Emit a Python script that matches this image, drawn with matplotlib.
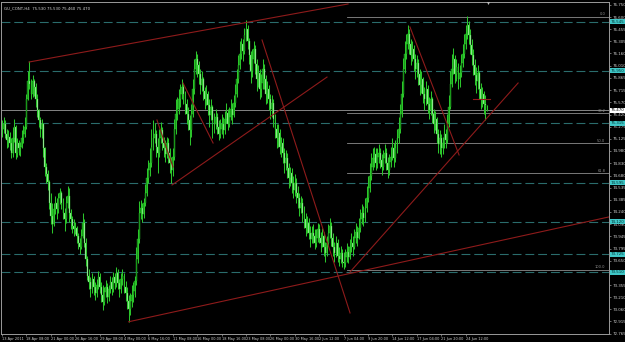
import matplotlib
matplotlib.use("Agg")
import matplotlib.pyplot as plt
import numpy as np

# ---------------- data (H4 bars, price) ----------------
first_open = 75.20
closes = [
    75.25, 75.31, 75.19, 75.11, 75.15, 75.07, 74.95, 75.13, 75.27, 74.95, 75.07, 75.01, 75.03, 75.13, 75.19, 75.27,
    75.61, 75.83, 75.79, 75.67, 75.83, 75.75, 75.61, 75.47, 75.35, 75.25, 75.30, 75.01, 74.79, 74.70, 74.60, 74.35,
    74.19, 74.10, 74.27, 74.35, 74.27, 74.41, 74.47, 74.35, 74.23, 74.15, 74.35, 74.43, 74.23, 74.15, 74.07, 74.03,
    74.05, 73.95, 73.87, 73.81, 73.95, 74.11, 73.87, 73.67, 73.47, 73.39, 73.31, 73.43, 73.33, 73.26, 73.35, 73.45,
    73.33, 73.23, 73.15, 73.27, 73.33, 73.21, 73.31, 73.39, 73.31, 73.45, 73.38, 73.50, 73.38, 73.31, 73.43, 73.47,
    73.33, 73.26, 73.16, 73.07, 73.16, 73.23, 73.28, 73.40, 73.67, 73.91, 74.23, 74.29, 74.22, 74.35, 74.47, 74.65,
    74.75, 74.83, 75.03, 75.13, 75.19, 75.03, 74.95, 75.13, 75.23, 75.07, 75.01, 74.94, 75.07, 74.95, 74.83, 74.75,
    74.91, 75.25, 75.43, 75.49, 75.61, 75.67, 75.75, 75.67, 75.55, 75.43, 75.35, 75.23, 75.43, 75.73, 75.97, 76.09,
    76.02, 75.91, 75.78, 75.85, 75.71, 75.61, 75.67, 75.54, 75.42, 75.51, 75.35, 75.30, 75.39, 75.27, 75.18, 75.25,
    75.31, 75.23, 75.37, 75.44, 75.31, 75.39, 75.49, 75.42, 75.56, 75.67, 75.85, 76.02, 76.15, 76.27, 76.19, 76.38,
    76.45, 76.31, 76.14, 75.95, 76.09, 76.21, 76.03, 75.85, 75.92, 75.73, 75.80, 75.97, 75.85, 75.67, 75.73, 75.61,
    75.49, 75.56, 75.37, 75.25, 75.13, 75.20, 75.03, 75.07, 74.95, 74.83, 74.89, 74.77, 74.65, 74.71, 74.59, 74.51,
    74.59, 74.47, 74.41, 74.29, 74.35, 74.23, 74.15, 74.05, 74.11, 73.99, 73.91, 73.99, 73.95, 73.87, 73.93, 74.03,
    73.93, 73.86, 73.95, 73.81, 73.74, 73.87, 73.99, 74.07, 73.93, 73.81, 73.74, 73.87, 73.71, 73.67, 73.74, 73.63,
    73.62, 73.69, 73.76, 73.69, 73.81, 73.87, 73.81, 73.93, 74.00, 73.93, 74.05, 74.15, 74.23, 74.17, 74.29, 74.41,
    74.53, 74.67, 74.79, 74.89, 74.94, 74.83, 74.91, 74.96, 74.87, 74.79, 74.89, 74.96, 74.83, 74.75, 74.84, 74.91,
    75.01, 74.89, 75.01, 75.13, 75.25, 75.43, 75.67, 75.97, 76.15, 76.27, 76.39, 76.27, 76.14, 76.21, 76.09, 75.97,
    76.04, 75.91, 75.78, 75.85, 75.67, 75.61, 75.73, 75.55, 75.47, 75.61, 75.43, 75.31, 75.37, 75.19, 75.06, 75.13,
    75.01, 75.07, 75.19, 75.11, 75.31, 75.51, 75.79, 75.97, 76.09, 75.91, 75.99, 75.85, 75.92, 76.04, 76.15, 76.27,
    76.39, 76.50, 76.38, 76.26, 76.14, 76.02, 75.90, 75.83, 75.92, 75.73, 75.61, 75.67, 75.55, 75.53, 75.47,
]
highs = [
    75.35, 75.39, 75.35, 75.25, 75.23, 75.21, 75.13, 75.27, 75.37, 75.29, 75.13, 75.11, 75.09, 75.23, 75.29, 75.39,
    75.67, 75.95, 76.07, 75.85, 75.90, 75.85, 75.80, 75.67, 75.49, 75.39, 75.37, 75.32, 75.03, 74.83, 74.75, 74.63,
    74.47, 74.35, 74.35, 74.43, 74.41, 74.47, 74.53, 74.49, 74.41, 74.29, 74.43, 74.55, 74.53, 74.27, 74.19, 74.15,
    74.12, 74.07, 73.99, 73.93, 74.03, 74.23, 74.15, 73.93, 73.71, 73.55, 73.45, 73.50, 73.47, 73.39, 73.43, 73.53,
    73.50, 73.39, 73.35, 73.33, 73.41, 73.38, 73.35, 73.47, 73.45, 73.51, 73.50, 73.57, 73.55, 73.43, 73.50, 73.55,
    73.50, 73.40, 73.33, 73.23, 73.26, 73.35, 73.39, 73.47, 73.81, 74.03, 74.37, 74.39, 74.35, 74.41, 74.58, 74.77,
    74.87, 75.01, 75.25, 75.35, 75.32, 75.23, 75.13, 75.25, 75.33, 75.27, 75.15, 75.11, 75.15, 75.13, 75.01, 74.91,
    75.01, 75.37, 75.61, 75.63, 75.73, 75.79, 75.85, 75.80, 75.71, 75.61, 75.51, 75.41, 75.55, 75.85, 76.09, 76.19,
    76.15, 76.07, 75.97, 75.95, 75.87, 75.75, 75.78, 75.71, 75.61, 75.61, 75.54, 75.44, 75.49, 75.44, 75.35, 75.37,
    75.43, 75.39, 75.46, 75.56, 75.49, 75.51, 75.61, 75.56, 75.66, 75.79, 75.97, 76.14, 76.31, 76.35, 76.33, 76.47,
    76.56, 76.50, 76.35, 76.19, 76.21, 76.31, 76.26, 76.09, 76.02, 75.97, 75.91, 76.09, 76.03, 75.90, 75.83, 75.78,
    75.67, 75.66, 75.61, 75.43, 75.31, 75.30, 75.25, 75.15, 75.13, 75.01, 74.99, 74.95, 74.83, 74.79, 74.77, 74.67,
    74.70, 74.65, 74.55, 74.47, 74.43, 74.41, 74.31, 74.23, 74.19, 74.17, 74.07, 74.07, 74.10, 74.03, 74.03, 74.11,
    74.10, 74.00, 74.05, 74.00, 73.88, 73.95, 74.10, 74.17, 74.12, 73.98, 73.88, 73.95, 73.91, 73.81, 73.83, 73.79,
    73.76, 73.79, 73.87, 73.83, 73.91, 73.98, 73.95, 74.03, 74.11, 74.07, 74.17, 74.27, 74.34, 74.31, 74.41, 74.55,
    74.67, 74.83, 74.95, 75.01, 75.03, 75.01, 75.01, 75.06, 75.01, 74.94, 74.99, 75.06, 75.01, 74.91, 74.94, 75.03,
    75.13, 75.08, 75.11, 75.25, 75.39, 75.55, 75.83, 76.11, 76.31, 76.40, 76.51, 76.45, 76.33, 76.31, 76.26, 76.15,
    76.14, 76.09, 75.97, 75.95, 75.87, 75.75, 75.83, 75.78, 75.63, 75.71, 75.63, 75.49, 75.46, 75.39, 75.25, 75.23,
    75.18, 75.15, 75.30, 75.25, 75.43, 75.66, 75.95, 76.15, 76.23, 76.14, 76.09, 76.04, 76.02, 76.15, 76.27, 76.39,
    76.50, 76.61, 76.55, 76.45, 76.33, 76.21, 76.09, 75.99, 76.02, 75.95, 75.80, 75.75, 75.71, 75.66, 75.53,
]
lows = [
    75.15, 75.20, 75.13, 75.01, 75.03, 74.99, 74.89, 74.91, 75.09, 74.88, 74.91, 74.93, 74.92, 75.01, 75.07, 75.15,
    75.25, 75.59, 75.73, 75.61, 75.63, 75.65, 75.51, 75.39, 75.27, 75.15, 75.13, 74.91, 74.67, 74.59, 74.51, 74.27,
    74.10, 73.98, 74.07, 74.22, 74.15, 74.23, 74.34, 74.27, 74.15, 74.01, 74.11, 74.29, 74.12, 74.03, 73.98, 73.95,
    73.97, 73.87, 73.79, 73.73, 73.79, 73.93, 73.81, 73.59, 73.41, 73.31, 73.21, 73.26, 73.23, 73.17, 73.21, 73.31,
    73.26, 73.15, 73.05, 73.11, 73.21, 73.14, 73.16, 73.26, 73.23, 73.27, 73.31, 73.33, 73.31, 73.21, 73.26, 73.35,
    73.26, 73.16, 73.07, 72.91, 72.99, 73.09, 73.15, 73.21, 73.35, 73.62, 73.86, 74.15, 74.12, 74.17, 74.31, 74.43,
    74.59, 74.67, 74.79, 74.99, 75.07, 74.91, 74.71, 74.91, 75.07, 74.99, 74.91, 74.85, 74.89, 74.83, 74.71, 74.59,
    74.67, 74.87, 75.19, 75.35, 75.43, 75.51, 75.61, 75.55, 75.43, 75.31, 75.23, 75.05, 75.15, 75.39, 75.67, 75.91,
    75.87, 75.79, 75.67, 75.71, 75.59, 75.49, 75.54, 75.42, 75.27, 75.35, 75.13, 75.20, 75.25, 75.18, 75.11, 75.13,
    75.18, 75.13, 75.19, 75.32, 75.23, 75.27, 75.35, 75.30, 75.39, 75.51, 75.63, 75.80, 75.97, 76.09, 76.07, 76.15,
    76.31, 76.21, 76.03, 75.80, 75.87, 76.04, 75.91, 75.71, 75.75, 75.61, 75.63, 75.73, 75.73, 75.55, 75.56, 75.47,
    75.37, 75.39, 75.27, 75.13, 75.01, 75.03, 74.94, 74.91, 74.83, 74.71, 74.75, 74.65, 74.53, 74.55, 74.47, 74.41,
    74.43, 74.35, 74.29, 74.19, 74.23, 74.12, 74.05, 73.95, 73.98, 73.91, 73.81, 73.86, 73.87, 73.79, 73.81, 73.88,
    73.86, 73.76, 73.81, 73.71, 73.64, 73.71, 73.83, 73.93, 73.83, 73.71, 73.64, 73.69, 73.63, 73.59, 73.62, 73.57,
    73.55, 73.57, 73.64, 73.62, 73.67, 73.75, 73.71, 73.79, 73.87, 73.83, 73.91, 74.00, 74.10, 74.07, 74.12, 74.24,
    74.36, 74.48, 74.63, 74.75, 74.79, 74.75, 74.77, 74.83, 74.77, 74.69, 74.75, 74.83, 74.75, 74.65, 74.69, 74.79,
    74.87, 74.79, 74.84, 74.96, 75.08, 75.20, 75.39, 75.63, 75.92, 76.09, 76.21, 76.15, 76.02, 76.07, 75.95, 75.85,
    75.87, 75.78, 75.66, 75.68, 75.56, 75.47, 75.54, 75.44, 75.37, 75.42, 75.32, 75.20, 75.23, 75.08, 74.96, 74.94,
    74.91, 74.94, 75.01, 75.01, 75.07, 75.27, 75.49, 75.75, 75.91, 75.80, 75.83, 75.73, 75.75, 75.87, 75.99, 76.11,
    76.21, 76.33, 76.27, 76.15, 76.02, 75.90, 75.78, 75.68, 75.73, 75.61, 75.49, 75.51, 75.43, 75.35, 75.46,
]

title_text = "GU_CONT,H4  75.530 75.530 75.460 75.470"
bid_price = 75.47
bid_label = "75.470"

date_labels = ["13 Apr 2011", "18 Apr 08:00", "21 Apr 00:00", "26 Apr 16:00", "29 Apr 08:00",
               "4 May 00:00", "6 May 16:00", "11 May 08:00", "16 May 00:00", "18 May 16:00",
               "23 May 08:00", "26 May 00:00", "30 May 16:00", "2 Jun 12:00", "7 Jun 04:00",
               "9 Jun 20:00", "14 Jun 12:00", "17 Jun 04:00", "21 Jun 20:00", "24 Jun 12:00"]
date_label_step = 16

# right-axis price labels (the one at 73.505 sits under a highlighted level box)
price_ticks = [76.750, 76.600, 76.455, 76.305, 76.160, 76.010, 75.865, 75.715, 75.570, 75.420,
               75.275, 75.125, 74.980, 74.830, 74.680, 74.535, 74.385, 74.240, 74.090, 73.945,
               73.795, 73.650, 73.355, 73.210, 73.060, 72.915, 72.765]

# horizontal dashed levels (teal) with highlighted labels
hlevels = [76.545, 75.950, 75.315, 74.595, 74.120, 73.725, 73.510]

# Fibonacci retracement
fib_high = 76.605
fib_low = 73.537
fib_levels = [0.0, 38.2, 50.0, 61.8, 100.0]
fib_start_bar = 226

# trend lines: (bar0, price0, bar1, price1)
trend_lines = [
    (17.7, 76.056, 226.9, 76.759),
    (83.0, 72.91, 398.0, 74.18),
    (111.5, 74.567, 213.1, 75.874),
    (170.5, 76.323, 228.2, 73.017),
    (267.5, 76.480, 299.7, 74.930),
    (228.2, 73.513, 338.4, 75.802),
    (308.9, 75.605, 320.0, 75.605),
    (101.6, 75.354, 112.1, 74.785),
    (118.7, 75.802, 138.4, 75.075),
]

# ---------------- drawing ----------------
W, H = 625, 342
fig = plt.figure(figsize=(W / 100, H / 100), dpi=100, facecolor="black")
ax = fig.add_axes([1.5 / W, 8 / H, 607.5 / W, 332.5 / H], facecolor="black")

n = len(closes)
idx = np.arange(n)
c = np.array(closes)
o = np.concatenate([[first_open], c[:-1]])
hi = np.array(highs)
lo = np.array(lows)

XMAX = 398.0
ax.set_xlim(-0.33, XMAX)
ax.set_ylim(72.762, 76.789)

# dashed teal levels
for lv in hlevels:
    ax.axhline(lv, color="#2a6c6c", lw=0.8, ls=(0, (8, 3.5)), zorder=1)

# bid line
ax.axhline(bid_price, color="#9a9a9a", lw=0.6, zorder=1)

# fib lines
for lvl in fib_levels:
    p = fib_high - lvl / 100.0 * (fib_high - fib_low)
    ax.plot([fib_start_bar, XMAX], [p, p], color="#8c8c8c", lw=0.6, zorder=1)
    ax.text(XMAX - 2.5, p + 0.008, f"{lvl:.1f}", color="#8c8c8c", fontsize=2.6,
            ha="right", va="bottom", zorder=2)

# candles
ax.vlines(idx, lo, hi, color="#2bc42b", lw=0.75, zorder=3)
up = c >= o
body_col = np.where(up, "#0f7a0f", "#c0efc0")
ax.bar(idx, c - o, bottom=o, width=0.62, color=body_col, edgecolor="#30d030",
       linewidth=0.25, zorder=4)

# trend lines
for x0, y0, x1, y1 in trend_lines:
    ax.plot([x0, x1], [y0, y1], color="#8e1b1b", lw=0.8, zorder=5)

# chart-shift marker at the top
ax.plot([n - 0.5], [76.775], marker="v", ms=2.2, color="#bbbbbb", mec="none",
        zorder=6, clip_on=False)

# axes styling
for side in ["left", "top", "right", "bottom"]:
    ax.spines[side].set_color("#9a9a9a")
    ax.spines[side].set_linewidth(0.7)

ax.yaxis.tick_right()
ax.set_yticks(price_ticks)
ax.set_yticklabels([f"{v:.3f}" for v in price_ticks])
ax.tick_params(axis="y", colors="#9a9a9a", labelcolor="#d0d0d0", labelsize=2.9,
               length=1.5, width=0.5, pad=1.2)

date_pos = [k * date_label_step for k in range(len(date_labels))]
ax.set_xticks(date_pos)
ax.set_xticklabels(date_labels, ha="left")
ax.tick_params(axis="x", colors="#9a9a9a", labelcolor="#d0d0d0", labelsize=2.55,
               length=1.5, width=0.5, pad=0.6)

# highlighted price labels on the right
for lv in hlevels:
    ax.text(1.003, lv, f"{lv:.3f}", transform=ax.get_yaxis_transform(), fontsize=2.9,
            color="#003333", ha="left", va="center", zorder=10,
            bbox=dict(boxstyle="square,pad=0.15", fc="#3fc6c6", ec="none"))
ax.text(1.003, bid_price, bid_label, transform=ax.get_yaxis_transform(), fontsize=2.9,
        color="black", ha="left", va="center", zorder=10,
        bbox=dict(boxstyle="square,pad=0.15", fc="white", ec="none"))

# title
ax.text(0.004, 0.985, title_text, transform=ax.transAxes, fontsize=2.8,
        color="#d8d8d8", ha="left", va="top")

fig.savefig("out.png", dpi=100, facecolor="black")
